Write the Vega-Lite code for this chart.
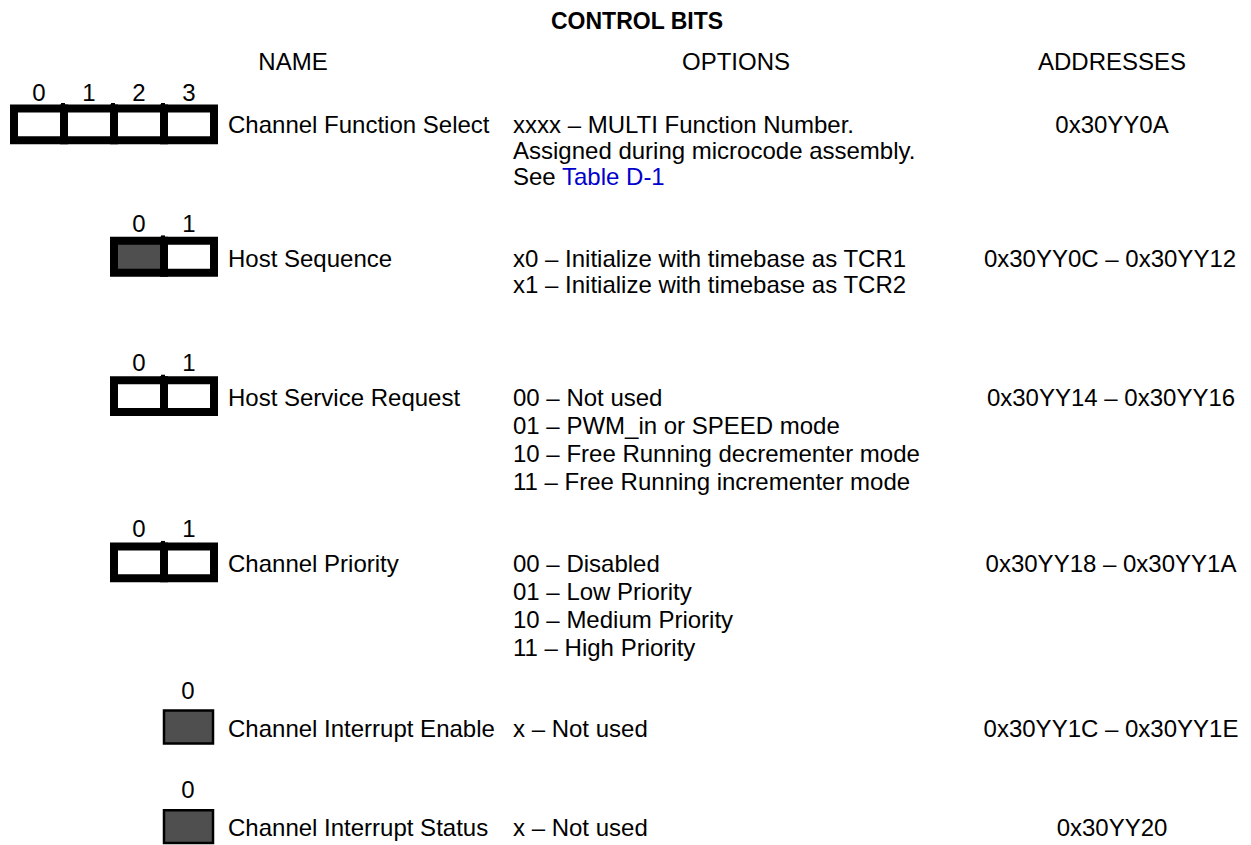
{
  "$schema": "https://vega.github.io/schema/vega-lite/v6.json",
  "width": 1251,
  "height": 845,
  "padding": 0,
  "autosize": {"type": "fit", "contains": "padding"},
  "background": "white",
  "config": {"view": {"stroke": null}},
  "datasets": {
    "cells": [
      {"field": "Channel Function Select", "bit": 0, "x0": 14, "x1": 64, "y0": 109, "y1": 141, "reserved": "no", "width": "multi"},
      {"field": "Channel Function Select", "bit": 1, "x0": 64, "x1": 114, "y0": 109, "y1": 141, "reserved": "no", "width": "multi"},
      {"field": "Channel Function Select", "bit": 2, "x0": 114, "x1": 164, "y0": 109, "y1": 141, "reserved": "no", "width": "multi"},
      {"field": "Channel Function Select", "bit": 3, "x0": 164, "x1": 214, "y0": 109, "y1": 141, "reserved": "no", "width": "multi"},
      {"field": "Host Sequence", "bit": 0, "x0": 114, "x1": 164, "y0": 242, "y1": 274, "reserved": "yes", "width": "multi"},
      {"field": "Host Sequence", "bit": 1, "x0": 164, "x1": 214, "y0": 242, "y1": 274, "reserved": "no", "width": "multi"},
      {"field": "Host Service Request", "bit": 0, "x0": 114, "x1": 164, "y0": 382, "y1": 414, "reserved": "no", "width": "multi"},
      {"field": "Host Service Request", "bit": 1, "x0": 164, "x1": 214, "y0": 382, "y1": 414, "reserved": "no", "width": "multi"},
      {"field": "Channel Priority", "bit": 0, "x0": 114, "x1": 164, "y0": 549, "y1": 581, "reserved": "no", "width": "multi"},
      {"field": "Channel Priority", "bit": 1, "x0": 164, "x1": 214, "y0": 549, "y1": 581, "reserved": "no", "width": "multi"},
      {"field": "Channel Interrupt Enable", "bit": 0, "x0": 164, "x1": 213, "y0": 714, "y1": 747, "reserved": "yes", "width": "single"},
      {"field": "Channel Interrupt Status", "bit": 0, "x0": 164, "x1": 213, "y0": 814, "y1": 847, "reserved": "yes", "width": "single"}
    ],
    "notches": [
      {"x": 63, "y0": 103.5, "y1": 106},
      {"x": 113, "y0": 103.5, "y1": 106},
      {"x": 163, "y0": 103.5, "y1": 106},
      {"x": 163, "y0": 236.5, "y1": 239},
      {"x": 163, "y0": 376.5, "y1": 379},
      {"x": 163, "y0": 543.5, "y1": 546}
    ],
    "title": [
      {"text": "CONTROL BITS", "x": 637, "y": 20}
    ],
    "centered": [
      {"text": "NAME", "x": 293, "y": 60},
      {"text": "OPTIONS", "x": 736, "y": 60},
      {"text": "ADDRESSES", "x": 1112, "y": 60},
      {"text": "0", "x": 39, "y": 91},
      {"text": "1", "x": 89, "y": 91},
      {"text": "2", "x": 139, "y": 91},
      {"text": "3", "x": 189, "y": 91},
      {"text": "0", "x": 139, "y": 223},
      {"text": "1", "x": 189, "y": 223},
      {"text": "0", "x": 139, "y": 363},
      {"text": "1", "x": 189, "y": 363},
      {"text": "0", "x": 139, "y": 530},
      {"text": "1", "x": 189, "y": 530},
      {"text": "0", "x": 188, "y": 692},
      {"text": "0", "x": 188, "y": 792},
      {"text": "0x30YY0A", "x": 1112, "y": 124},
      {"text": "0x30YY0C – 0x30YY12", "x": 1110, "y": 258},
      {"text": "0x30YY14 – 0x30YY16", "x": 1111, "y": 398},
      {"text": "0x30YY18 – 0x30YY1A", "x": 1111, "y": 565},
      {"text": "0x30YY1C – 0x30YY1E", "x": 1111, "y": 730},
      {"text": "0x30YY20", "x": 1112, "y": 830}
    ],
    "left": [
      {"text": "Channel Function Select", "x": 228, "y": 124},
      {"text": "Host Sequence", "x": 228, "y": 258},
      {"text": "Host Service Request", "x": 228, "y": 398},
      {"text": "Channel Priority", "x": 228, "y": 565},
      {"text": "Channel Interrupt Enable", "x": 228, "y": 730},
      {"text": "Channel Interrupt Status", "x": 228, "y": 830},
      {"text": "xxxx – MULTI Function Number.", "x": 513, "y": 124},
      {"text": "Assigned during microcode assembly.", "x": 513, "y": 150},
      {"text": "See", "x": 513, "y": 176},
      {"text": "x0 – Initialize with timebase as TCR1", "x": 513, "y": 258},
      {"text": "x1 – Initialize with timebase as TCR2", "x": 513, "y": 284},
      {"text": "00 – Not used", "x": 513, "y": 398},
      {"text": "01 – PWM_in or SPEED mode", "x": 513, "y": 426},
      {"text": "10 – Free Running decrementer mode", "x": 513, "y": 454},
      {"text": "11 – Free Running incrementer mode", "x": 513, "y": 482},
      {"text": "00 – Disabled", "x": 513, "y": 565},
      {"text": "01 – Low Priority", "x": 513, "y": 593},
      {"text": "10 – Medium Priority", "x": 513, "y": 621},
      {"text": "11 – High Priority", "x": 513, "y": 649},
      {"text": "x – Not used", "x": 513, "y": 730},
      {"text": "x – Not used", "x": 513, "y": 830}
    ],
    "links": [
      {"text": "Table D-1", "x": 562, "y": 176}
    ]
  },
  "layer": [
    {
      "data": {"name": "cells"},
      "transform": [{"filter": "datum.width === 'multi'"}],
      "mark": {"type": "rect", "stroke": "black", "strokeWidth": 8},
      "encoding": {
        "x": {"field": "x0", "type": "quantitative", "scale": {"domain": [0, 1251], "nice": false, "zero": false}, "axis": null},
        "x2": {"field": "x1"},
        "y": {"field": "y0", "type": "quantitative", "scale": {"domain": [0, 845], "nice": false, "zero": false, "reverse": true}, "axis": null},
        "y2": {"field": "y1"},
        "fill": {"field": "reserved", "type": "nominal", "scale": {"domain": ["no", "yes"], "range": ["#ffffff", "#4f4f4f"]}, "legend": null}
      }
    },
    {
      "data": {"name": "cells"},
      "transform": [{"filter": "datum.width === 'single'"}],
      "mark": {"type": "rect", "stroke": "black", "strokeWidth": 2.5},
      "encoding": {
        "x": {"field": "x0", "type": "quantitative", "scale": {"domain": [0, 1251], "nice": false, "zero": false}, "axis": null},
        "x2": {"field": "x1"},
        "y": {"field": "y0", "type": "quantitative", "scale": {"domain": [0, 845], "nice": false, "zero": false, "reverse": true}, "axis": null},
        "y2": {"field": "y1"},
        "fill": {"field": "reserved", "type": "nominal", "scale": {"domain": ["no", "yes"], "range": ["#ffffff", "#4f4f4f"]}, "legend": null}
      }
    },
    {
      "data": {"name": "notches"},
      "mark": {"type": "rule", "color": "black", "strokeWidth": 4},
      "encoding": {
        "x": {"field": "x", "type": "quantitative", "scale": {"domain": [0, 1251], "nice": false, "zero": false}, "axis": null},
        "y": {"field": "y0", "type": "quantitative", "scale": {"domain": [0, 845], "nice": false, "zero": false, "reverse": true}, "axis": null},
        "y2": {"field": "y1"}
      }
    },
    {
      "data": {"name": "title"},
      "mark": {"type": "text", "font": "Liberation Sans", "fontSize": 23, "fontWeight": "bold", "align": "center", "baseline": "middle", "dy": 2, "color": "black"},
      "encoding": {
        "x": {"field": "x", "type": "quantitative", "scale": {"domain": [0, 1251], "nice": false, "zero": false}, "axis": null},
        "y": {"field": "y", "type": "quantitative", "scale": {"domain": [0, 845], "nice": false, "zero": false, "reverse": true}, "axis": null},
        "text": {"field": "text"}
      }
    },
    {
      "data": {"name": "centered"},
      "mark": {"type": "text", "font": "Liberation Sans", "fontSize": 24, "align": "center", "baseline": "middle", "dy": 3, "color": "black"},
      "encoding": {
        "x": {"field": "x", "type": "quantitative", "scale": {"domain": [0, 1251], "nice": false, "zero": false}, "axis": null},
        "y": {"field": "y", "type": "quantitative", "scale": {"domain": [0, 845], "nice": false, "zero": false, "reverse": true}, "axis": null},
        "text": {"field": "text"}
      }
    },
    {
      "data": {"name": "left"},
      "mark": {"type": "text", "font": "Liberation Sans", "fontSize": 24, "align": "left", "baseline": "middle", "dy": 3, "color": "black"},
      "encoding": {
        "x": {"field": "x", "type": "quantitative", "scale": {"domain": [0, 1251], "nice": false, "zero": false}, "axis": null},
        "y": {"field": "y", "type": "quantitative", "scale": {"domain": [0, 845], "nice": false, "zero": false, "reverse": true}, "axis": null},
        "text": {"field": "text"}
      }
    },
    {
      "data": {"name": "links"},
      "mark": {"type": "text", "font": "Liberation Sans", "fontSize": 24, "align": "left", "baseline": "middle", "dy": 3, "color": "#0000cc"},
      "encoding": {
        "x": {"field": "x", "type": "quantitative", "scale": {"domain": [0, 1251], "nice": false, "zero": false}, "axis": null},
        "y": {"field": "y", "type": "quantitative", "scale": {"domain": [0, 845], "nice": false, "zero": false, "reverse": true}, "axis": null},
        "text": {"field": "text"}
      }
    }
  ]
}
